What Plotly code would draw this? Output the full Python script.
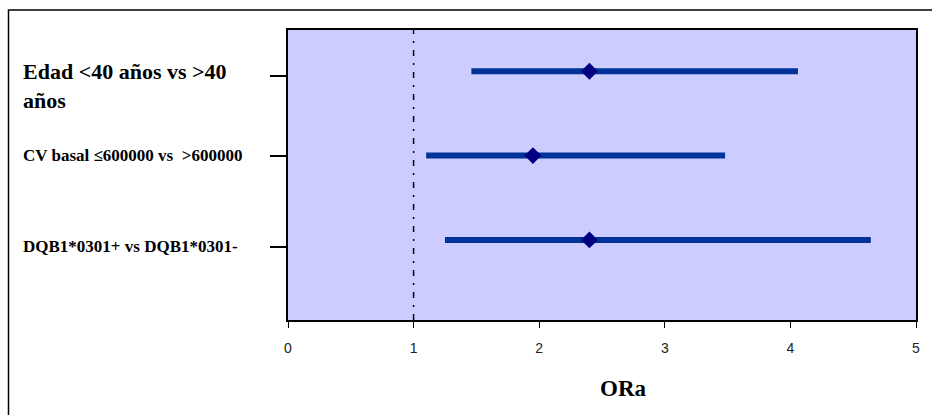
import plotly.graph_objects as go

categories = ["Edad <40 años vs >40<br>años", "CV basal ≤600000 vs  >600000", "DQB1*0301+ vs DQB1*0301-"]
row_pos = [3, 2, 1]
ora = [2.40, 1.95, 2.40]
ci_low = [1.46, 1.10, 1.25]
ci_high = [4.06, 3.48, 4.64]
x_ticks = [0, 1, 2, 3, 4, 5]
label_pos = [2.95, 2.0, 0.92]
label_sizes = [22, 17, 17]

W, H = 932, 415
L, R, T, B = 288, 16, 30, 95
pw, ph = W - L - R, H - T - B

SERIF = "Liberation Serif, Times New Roman, serif"

fig = go.Figure()
fig.add_trace(go.Scatter(
    x=ora, y=row_pos, mode="markers",
    marker=dict(symbol="diamond", size=13, color="#000080", line=dict(width=0)),
    error_x=dict(type="data", symmetric=False,
                 array=[h - o for h, o in zip(ci_high, ora)],
                 arrayminus=[o - l for o, l in zip(ora, ci_low)],
                 color="#003399", thickness=6, width=0),
    showlegend=False, hoverinfo="skip"))

# reference line at OR = 1
fig.add_shape(type="line", xref="x", yref="paper", x0=1, x1=1, y0=0, y1=1,
              line=dict(color="black", width=1.5, dash="6px,7px,2px,7px"))


def px_to_paper_x(px):
    return (px - L) / pw


def px_to_paper_y(py):
    return (H - B - py) / ph


# outer frame (extends past the right and bottom edges)
fig.add_shape(type="rect", xref="paper", yref="paper",
              x0=px_to_paper_x(8.5), x1=px_to_paper_x(960),
              y0=px_to_paper_y(440), y1=px_to_paper_y(10),
              line=dict(color="black", width=1.5), fillcolor="rgba(0,0,0,0)", layer="below")

for lab, yv, fs in zip(categories, label_pos, label_sizes):
    two = "<br>" in lab
    fig.add_annotation(x=px_to_paper_x(21), xref="paper", y=yv, yref="y",
                       text="<b>" + lab + "</b>", showarrow=False,
                       xanchor="left", yanchor="top" if two else "middle",
                       yshift=19 if two else 0,
                       align="left",
                       font=dict(family=SERIF, size=fs, color="black"))

fig.add_annotation(x=px_to_paper_x(623), xref="paper", y=px_to_paper_y(388), yref="paper",
                   text="<b>ORa</b>", showarrow=False, xanchor="center", yanchor="middle",
                   font=dict(family=SERIF, size=23, color="black"))

fig.update_layout(
    width=W, height=H,
    margin=dict(l=L, r=R, t=T, b=B),
    paper_bgcolor="white", plot_bgcolor="#CCCCFF",
    xaxis=dict(range=[0, 5], tickvals=x_ticks, ticktext=[str(v) for v in x_ticks],
               showgrid=False, zeroline=False, showline=True, linecolor="black", linewidth=2,
               mirror=True, ticks="outside", ticklen=6, tickcolor="black", tickwidth=1,
               ticklabelstandoff=8,
               tickfont=dict(family="Liberation Sans, Arial, sans-serif", size=14, color="#222")),
    yaxis=dict(range=[0.05, 3.49], tickvals=label_pos, ticktext=["", "", ""],
               showgrid=False, zeroline=False, showline=True, linecolor="black", linewidth=2,
               mirror=True, ticks="outside", ticklen=16, tickcolor="black", tickwidth=1.5),
)

fig.write_html("out.html", config={"displayModeBar": False},
               post_script="document.body.style.margin='0';document.body.style.overflow='hidden';")
